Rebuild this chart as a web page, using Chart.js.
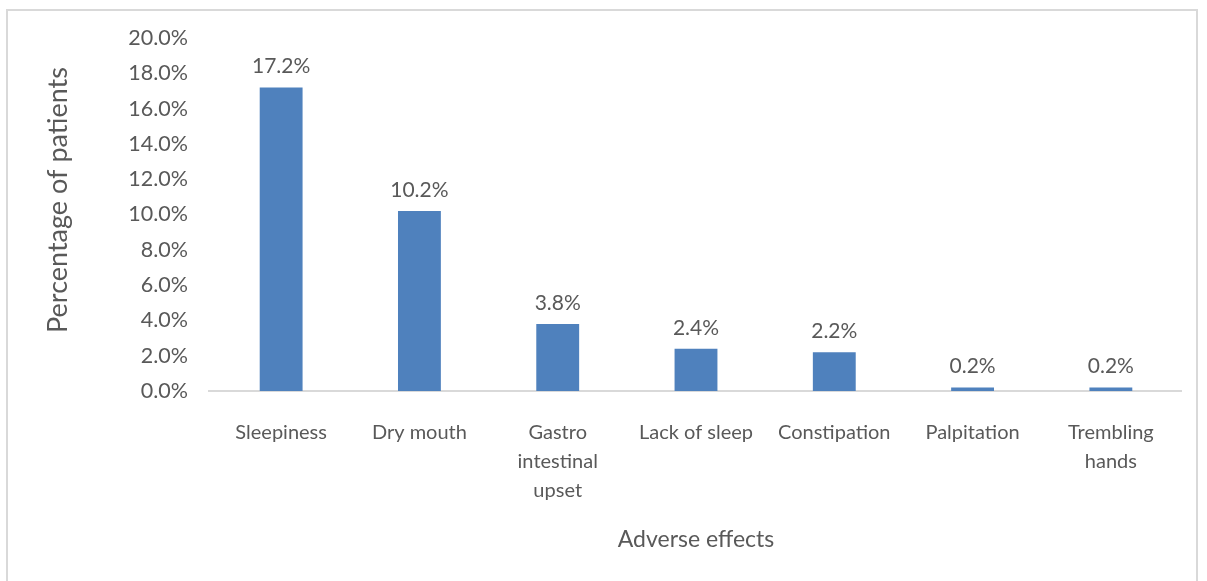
<!DOCTYPE html>
<html>
<head>
<meta charset="utf-8">
<script src="https://cdn.jsdelivr.net/npm/chart.js@4"></script>
<style>
  html, body { margin: 0; padding: 0; background: #fff; overflow: hidden; }
  #wrap { position: relative; width: 1207px; height: 581px; }
  #frame {
    position: absolute; left: 6px; top: 9px; width: 1192px; height: 600px;
    border: 2px solid #d9d9d9; box-sizing: border-box; pointer-events: none;
  }
</style>
</head>
<body>
<div id="wrap">
  <canvas id="myChart" width="1207" height="581"></canvas>
  <div id="frame"></div>
</div>
<script>
  const categories = [
    'Sleepiness',
    'Dry mouth',
    ['Gastro', 'intestinal', 'upset'],
    'Lack of sleep',
    'Constipation',
    'Palpitation',
    ['Trembling', 'hands']
  ];
  const percentages = [17.2, 10.2, 3.8, 2.4, 2.2, 0.2, 0.2];
  const yTicks = [0, 2, 4, 6, 8, 10, 12, 14, 16, 18, 20];

  const textColor = '#595959';
  const fontFamily = 'Lato, "Open Sans", sans-serif';

  // value labels above each bar
  const barLabels = {
    id: 'barLabels',
    afterDatasetsDraw(chart) {
      const ctx = chart.ctx;
      const meta = chart.getDatasetMeta(0);
      ctx.save();
      ctx.fillStyle = textColor;
      ctx.font = '21px ' + fontFamily;
      ctx.textAlign = 'center';
      ctx.textBaseline = 'alphabetic';
      meta.data.forEach((bar, i) => {
        ctx.fillText(percentages[i].toFixed(1) + '%', bar.x, bar.y - 14);
      });
      ctx.restore();
    }
  };

  // axis titles
  const axisTitles = {
    id: 'axisTitles',
    afterDraw(chart) {
      const ctx = chart.ctx;
      const area = chart.chartArea;
      ctx.save();
      ctx.fillStyle = textColor;
      ctx.textAlign = 'center';
      ctx.textBaseline = 'middle';
      ctx.font = '23px ' + fontFamily;
      ctx.fillText('Adverse effects', (area.left + area.right) / 2, 540);
      ctx.font = '27px ' + fontFamily;
      ctx.translate(58, 200);
      ctx.rotate(-Math.PI / 2);
      ctx.fillText('Percentage of patients', 0, 0);
      ctx.restore();
    }
  };

  // axis line runs a little past the category band on both sides
  const axisLine = {
    id: 'axisLine',
    beforeDatasetsDraw(chart) {
      const ctx = chart.ctx;
      const area = chart.chartArea;
      ctx.save();
      ctx.strokeStyle = '#d9d9d9';
      ctx.lineWidth = 2;
      ctx.beginPath();
      ctx.moveTo(area.left - 4, area.bottom);
      ctx.lineTo(area.right + 2, area.bottom);
      ctx.stroke();
      ctx.restore();
    }
  };

  const ctx = document.getElementById('myChart');

  new Chart(ctx, {
    type: 'bar',
    data: {
      labels: categories,
      datasets: [{
        data: percentages,
        backgroundColor: '#4f81bd',
        borderWidth: 0,
        barPercentage: 0.31,
        categoryPercentage: 1
      }]
    },
    options: {
      responsive: false,
      animation: false,
      layout: { padding: { top: 38, right: 27, bottom: 0, left: 0 } },
      plugins: {
        legend: { display: false },
        tooltip: { enabled: false }
      },
      scales: {
        x: {
          grid: { display: false, drawTicks: false },
          border: { display: false },
          ticks: {
            color: textColor,
            padding: 27,
            maxRotation: 0,
            autoSkip: false,
            font: { family: fontFamily, size: 20, lineHeight: 1.45 }
          },
          afterFit(scale) { scale.height = 190; }
        },
        y: {
          min: 0,
          max: 20,
          afterBuildTicks(scale) {
            scale.ticks = yTicks.map(v => ({ value: v }));
          },
          grid: { display: false, drawTicks: false },
          border: { display: false },
          ticks: {
            color: textColor,
            padding: 24,
            font: { family: fontFamily, size: 21.5 },
            callback: v => v.toFixed(1) + '%'
          },
          afterFit(scale) { scale.width = 212; }
        }
      }
    },
    plugins: [axisLine, barLabels, axisTitles]
  });
</script>
</body>
</html>
